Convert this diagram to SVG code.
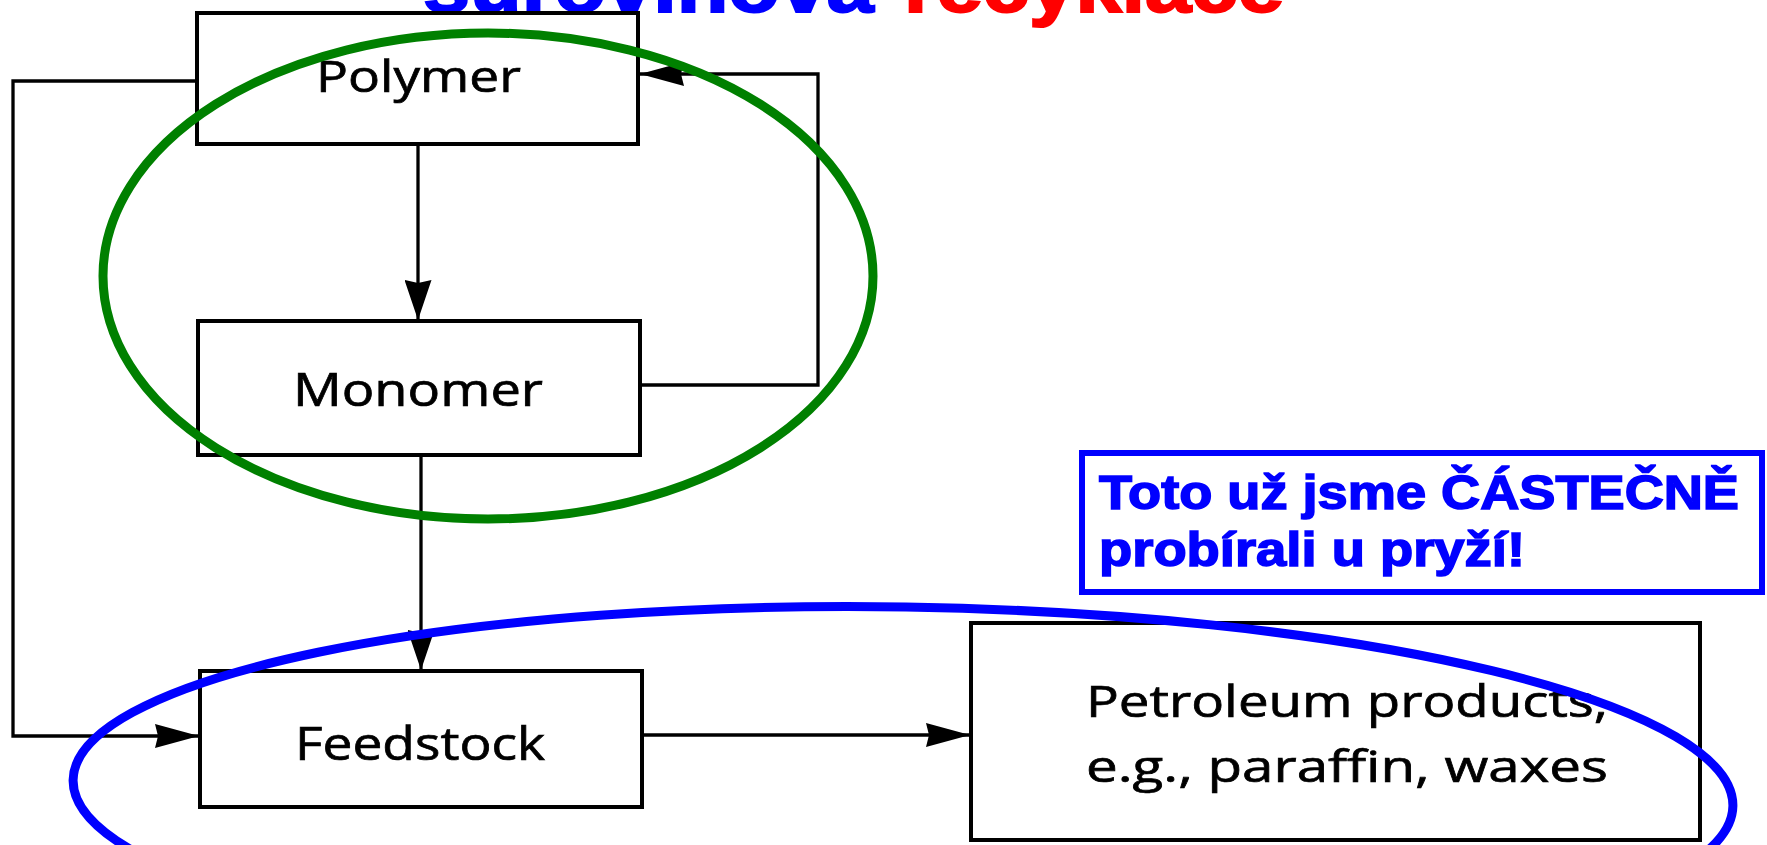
<svg xmlns="http://www.w3.org/2000/svg" width="1767" height="845" viewBox="0 0 1767 845">
<style>
.box{fill:#fff;stroke:#000;stroke-width:4}
.lbl{font-family:"Open Sans","Noto Sans",sans-serif;fill:#000;stroke:#000;stroke-width:0.7}
.con{fill:none;stroke:#000;stroke-width:3.3}
.note{font-family:"Liberation Sans",Arial,sans-serif;font-weight:bold;fill:#0000ff;stroke:#0000ff;stroke-width:1.6}
.ttl{font-family:"Liberation Sans",Arial,sans-serif;font-weight:bold;stroke-width:2}
</style>
<defs>
<marker id="ah" markerUnits="userSpaceOnUse" markerWidth="44" markerHeight="24" refX="44" refY="12" orient="auto" viewBox="0 0 44 24">
<path d="M0,0 L44,12 L0,24 L3,12 z" fill="#000"/>
</marker>
<marker id="av" markerUnits="userSpaceOnUse" markerWidth="40" markerHeight="27" refX="40" refY="13.5" orient="auto" viewBox="0 0 40 27">
<path d="M0,0 L40,13.5 L0,27 L3,13.5 z" fill="#000"/>
</marker>
</defs>
<rect width="1767" height="845" fill="#fff"/>
<g id="title">
<text class="ttl" x="423" y="12" font-size="74" fill="#0000ff" stroke="#0000ff" textLength="451" lengthAdjust="spacingAndGlyphs">surovinová</text>
<text class="ttl" x="904" y="12" font-size="74" fill="#ff0000" stroke="#ff0000" textLength="380" lengthAdjust="spacingAndGlyphs">recyklace</text>
</g>
<g id="connectors">
<line class="con" x1="418" y1="144" x2="418" y2="320" marker-end="url(#av)"/>
<line class="con" x1="421" y1="455" x2="421" y2="670" marker-end="url(#av)"/>
<path class="con" d="M640,385 H818 V74 H640" marker-end="url(#ah)"/>
<path class="con" d="M197,81 H13 V736 H199" marker-end="url(#ah)"/>
<line class="con" x1="642" y1="735" x2="970" y2="735" marker-end="url(#ah)"/>
</g>
<g id="polymer">
<rect class="box" x="197" y="13" width="441" height="131"/>
<text class="lbl" x="316" y="92" font-size="44" textLength="205" lengthAdjust="spacingAndGlyphs">Polymer</text>
</g>
<g id="monomer">
<rect class="box" x="198" y="321" width="442" height="134"/>
<text class="lbl" x="293" y="406" font-size="45" textLength="250" lengthAdjust="spacingAndGlyphs">Monomer</text>
</g>
<g id="feedstock">
<rect class="box" x="200" y="671" width="442" height="136"/>
<text class="lbl" x="295" y="760" font-size="46" textLength="250" lengthAdjust="spacingAndGlyphs">Feedstock</text>
</g>
<g id="petroleum">
<rect class="box" x="971" y="623" width="729" height="217"/>
<text class="lbl" x="1086" y="717" font-size="44" textLength="522" lengthAdjust="spacingAndGlyphs">Petroleum products,</text>
<text class="lbl" x="1086" y="782" font-size="44" textLength="522" lengthAdjust="spacingAndGlyphs">e.g., paraffin, waxes</text>
</g>
<g id="green-ellipse">
<ellipse cx="488" cy="276" rx="385" ry="243" fill="none" stroke="#008000" stroke-width="9"/>
</g>
<g id="blue-ellipse">
<ellipse cx="903" cy="793" rx="830" ry="186" transform="rotate(0.9 903 793)" fill="none" stroke="#0000ff" stroke-width="9"/>
</g>
<g id="note">
<rect x="1082" y="453" width="680" height="139" fill="#fff" stroke="#0000ff" stroke-width="6"/>
<text class="note" x="1099" y="509" font-size="49" textLength="640" lengthAdjust="spacingAndGlyphs">Toto už jsme ČÁSTEČNĚ</text>
<text class="note" x="1099" y="566" font-size="49" textLength="426" lengthAdjust="spacingAndGlyphs">probírali u pryží!</text>
</g>
</svg>
